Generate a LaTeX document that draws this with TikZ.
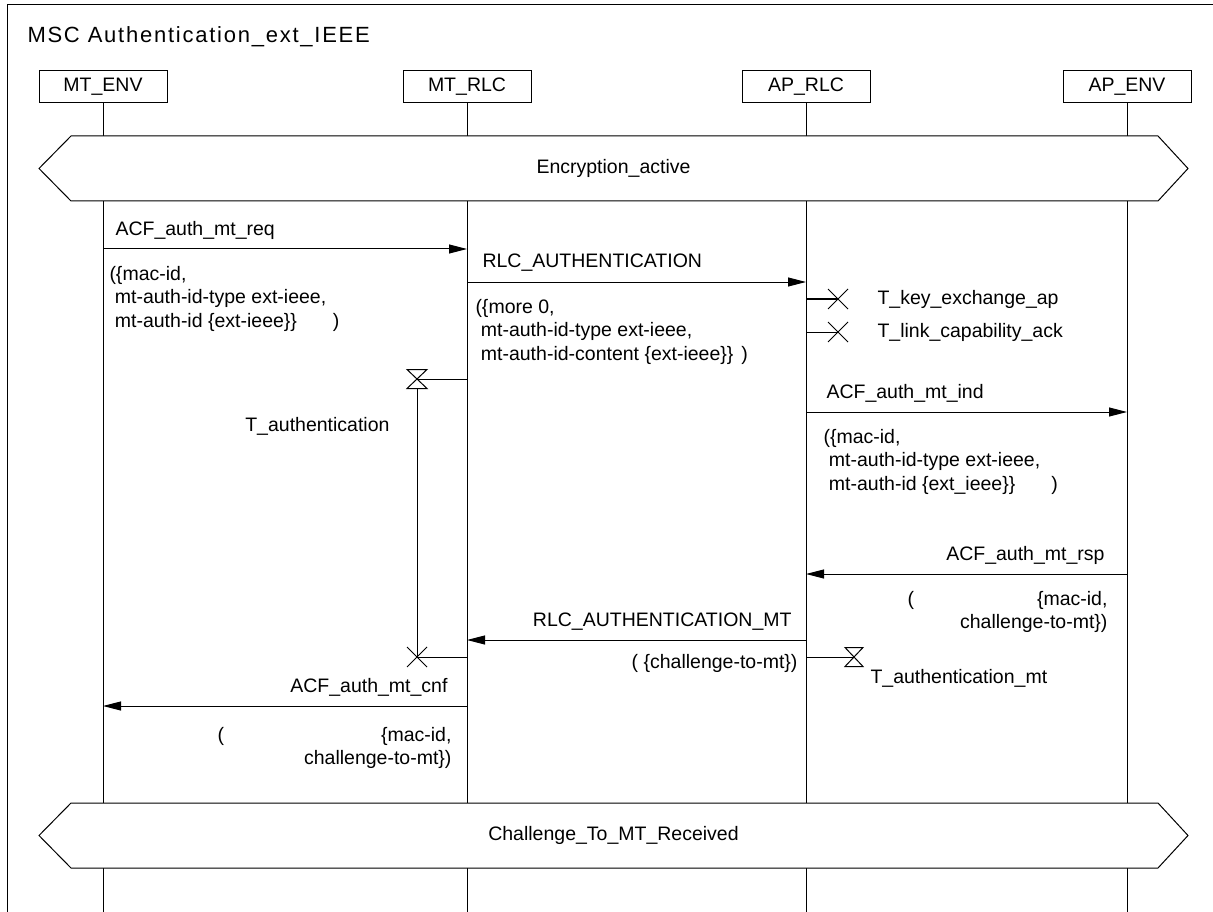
\documentclass[tikz,border=0pt]{standalone}
\usepackage{fontspec}
\setmainfont{Liberation Sans}
\newfontfamily\ttlfam[LetterSpace=8]{Liberation Sans}
\usetikzlibrary{arrows.meta}
\newcommand\lblfnt{\fontsize{19.5}{23.5}\selectfont}
\newcommand\ttlfnt{\ttlfam\fontsize{22}{26}\selectfont}
\newcommand\lsp{\hspace*{5.4pt}}
\tikzset{
  msg/.style={-{Triangle[length=18pt,width=9pt]}},
  headbox/.style={draw, fill=white, minimum width=128pt, minimum height=32pt, inner sep=0pt, font=\lblfnt},
  txt/.style={inner sep=0pt, font=\lblfnt},
  parl/.style={inner sep=0pt, font=\lblfnt, align=left},
  parr/.style={inner sep=0pt, font=\lblfnt, align=right},
  cond/.style={draw, fill=white},
}
\begin{document}
\begin{tikzpicture}[x=1pt, y=-1pt, line width=1pt]
\useasboundingbox (0,0) rectangle (1213,912);
\clip (0,0) rectangle (1213,912);
% frame
\draw (7,5) rectangle (1240,940);
\node[anchor=base west, inner sep=0pt, font=\ttlfnt] (title) at (27,42.5) {MSC Authentication\_ext\_IEEE};
% instance heads
\node[headbox] (mtenv) at (103,87) {MT\_ENV};
\node[headbox] (mtrlc) at (467,87) {MT\_RLC};
\node[headbox] (aprlc) at (806,87) {AP\_RLC};
\node[headbox] (apenv) at (1127,87) {AP\_ENV};
\coordinate (mtenvE) at (103,920);
\coordinate (mtrlcE) at (467,920);
\coordinate (aprlcE) at (806,920);
\coordinate (apenvE) at (1127,920);
\draw (mtenv.south) -- (mtenvE);
\draw (mtrlc.south) -- (mtrlcE);
\draw (aprlc.south) -- (aprlcE);
\draw (apenv.south) -- (apenvE);
% condition 1
\draw[cond] (39,168.5) -- (71,136) -- (1158,136) -- (1188,168.5) -- (1158,201) -- (71,201) -- cycle;
\node[txt] (c1) at (613.5,168.5) {Encryption\_active};
% condition 2
\draw[cond] (39,835.5) -- (71,803) -- (1158,803) -- (1188,835.5) -- (1158,868) -- (71,868) -- cycle;
\node[txt] (c2) at (613.5,835.5) {Challenge\_To\_MT\_Received};
% message 1
\coordinate (m1a) at (103,249);
\coordinate (m1b) at (467,249);
\draw[msg] (m1a) -- (m1b);
\node[txt, anchor=base west] (m1l) at (115,236) {ACF\_auth\_mt\_req};
\node[parl, anchor=base west] (m1p) at (109,327) {(\{mac-id,\\\lsp mt-auth-id-type ext-ieee,\\\lsp mt-auth-id \{ext-ieee\}\}\hspace{36pt})};
% message 2
\coordinate (m2a) at (467,282);
\coordinate (m2b) at (806,282);
\draw[msg] (m2a) -- (m2b);
\node[txt, anchor=base west] (m2l) at (482,267) {RLC\_AUTHENTICATION};
\node[parl, anchor=base west] (m2p) at (475,360) {(\{more 0,\\\lsp mt-auth-id-type ext-ieee,\\\lsp mt-auth-id-content \{ext-ieee\}\}\hspace{8pt})};
% stopped timers at AP_RLC
\coordinate (tk1a) at (806,299);
\coordinate (tk1x) at (838,299);
\draw[line width=2pt] (tk1a) -- (tk1x);
\draw (828,289) -- (848,309) (848,289) -- (828,309);
\node[txt, anchor=base west] (tk1l) at (877,304) {T\_key\_exchange\_ap};
\coordinate (tk2a) at (806,332);
\coordinate (tk2x) at (838,332);
\draw (tk2a) -- (tk2x);
\draw (828,322) -- (848,342) (848,322) -- (828,342);
\node[txt, anchor=base west] (tk2l) at (877,337) {T\_link\_capability\_ack};
% timer T_authentication on MT_RLC
\coordinate (ta0) at (467,379);
\coordinate (tas) at (417,379);
\coordinate (tax) at (417,657);
\coordinate (ta1) at (467,657);
\draw (ta0) -- (tas);
\draw (407,369.5) -- (427,369.5) -- (407,388.5) -- (427,388.5) -- cycle;
\draw (417,388.5) -- (tax);
\draw (407,647) -- (427,667) (427,647) -- (407,667);
\draw (tax) -- (ta1);
\node[txt, anchor=base east] (tal) at (390,431) {T\_authentication};
% message 3
\coordinate (m3a) at (806,412);
\coordinate (m3b) at (1127,412);
\draw[msg] (m3a) -- (m3b);
\node[txt, anchor=base west] (m3l) at (826,398) {ACF\_auth\_mt\_ind};
\node[parl, anchor=base west] (m3p) at (823,490) {(\{mac-id,\\\lsp mt-auth-id-type ext-ieee,\\\lsp mt-auth-id \{ext\_ieee\}\}\hspace{36pt})};
% message 4
\coordinate (m4a) at (1127,574);
\coordinate (m4b) at (806,574);
\draw[msg] (m4a) -- (m4b);
\node[txt, anchor=base east] (m4l) at (1105,560) {ACF\_auth\_mt\_rsp};
\node[parr, anchor=base east] (m4p) at (1108,628.5) {(\hspace{123pt}\{mac-id,\\challenge-to-mt\})};
% message 5
\coordinate (m5a) at (806,640);
\coordinate (m5b) at (467,640);
\draw[msg] (m5a) -- (m5b);
\node[txt, anchor=base east] (m5l) at (792,626) {RLC\_AUTHENTICATION\_MT};
\node[txt, anchor=base east] (m5p) at (798,668) {( \{challenge-to-mt\})};
% timer T_authentication_mt on AP_RLC
\coordinate (tb0) at (806,657);
\coordinate (tbs) at (854,657);
\draw (tb0) -- (tbs);
\draw (845,647.5) -- (863,647.5) -- (845,666.5) -- (863,666.5) -- cycle;
\node[txt, anchor=base west] (tbl) at (870,683) {T\_authentication\_mt};
% message 6
\coordinate (m6a) at (467,706);
\coordinate (m6b) at (103,706);
\draw[msg] (m6a) -- (m6b);
\node[txt, anchor=base east] (m6l) at (448,692) {ACF\_auth\_mt\_cnf};
\node[parr, anchor=base east] (m6p) at (452,764.5) {(\hspace{157pt}\{mac-id,\\challenge-to-mt\})};
\end{tikzpicture}
\end{document}
